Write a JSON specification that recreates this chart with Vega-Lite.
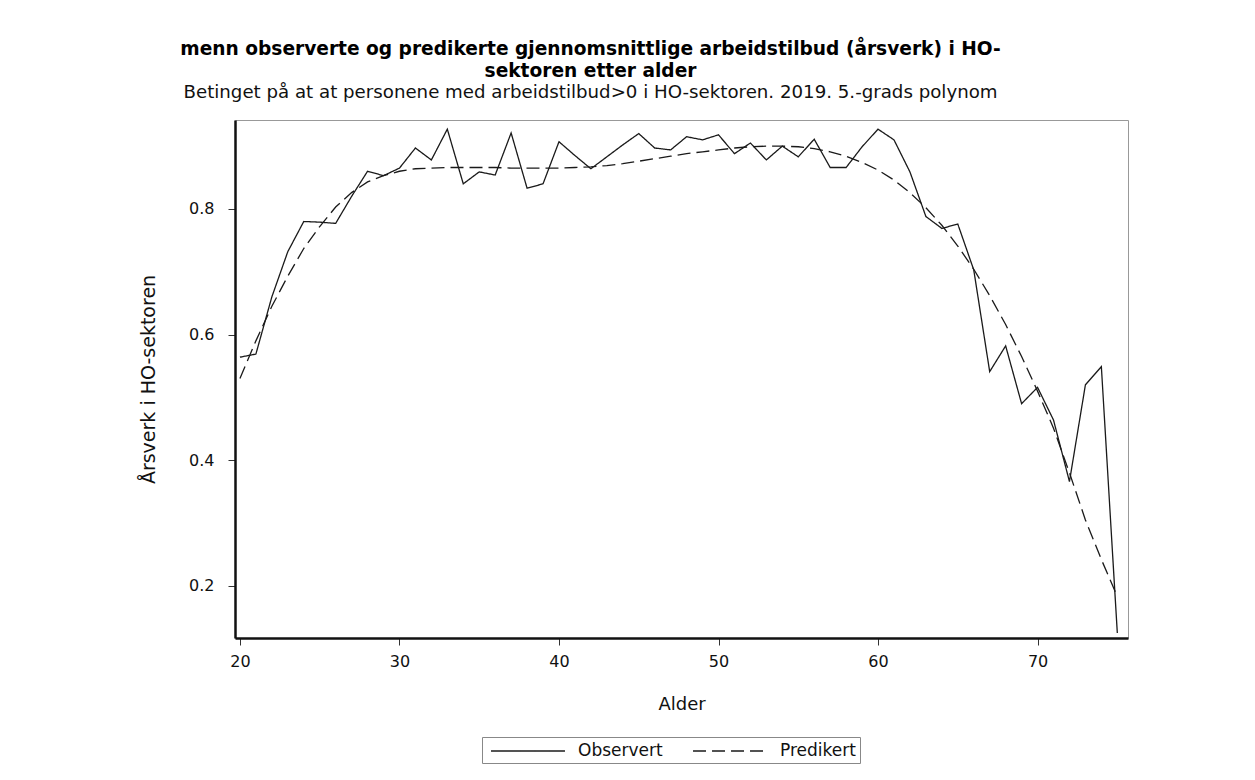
{
  "$schema": "https://vega.github.io/schema/vega-lite/v6.json",
  "autosize": {"type": "none"},
  "width": 893,
  "height": 518,
  "padding": {"left": 235, "top": 120, "right": 127, "bottom": 142},
  "background": "white",
  "title": {
    "text": ["menn observerte og predikerte gjennomsnittlige arbeidstilbud (årsverk) i HO-", "sektoren etter alder"],
    "subtitle": "Betinget på at at personene med arbeidstilbud>0 i HO-sektoren. 2019. 5.-grads polynom",
    "anchor": "middle",
    "dx": -91,
    "offset": 19,
    "font": "DejaVu Sans",
    "fontSize": 18.6,
    "fontWeight": "bold",
    "lineHeight": 22,
    "color": "#000",
    "subtitleFont": "DejaVu Sans",
    "subtitleFontSize": 18.2,
    "subtitleColor": "#111",
    "subtitlePadding": 3
  },
  "data": {
    "values": [
      {"alder": 20, "serie": "Observert", "verdi": 0.564},
      {"alder": 21, "serie": "Observert", "verdi": 0.569},
      {"alder": 22, "serie": "Observert", "verdi": 0.660},
      {"alder": 23, "serie": "Observert", "verdi": 0.732},
      {"alder": 24, "serie": "Observert", "verdi": 0.780},
      {"alder": 25, "serie": "Observert", "verdi": 0.779},
      {"alder": 26, "serie": "Observert", "verdi": 0.777},
      {"alder": 27, "serie": "Observert", "verdi": 0.820},
      {"alder": 28, "serie": "Observert", "verdi": 0.860},
      {"alder": 29, "serie": "Observert", "verdi": 0.853},
      {"alder": 30, "serie": "Observert", "verdi": 0.865},
      {"alder": 31, "serie": "Observert", "verdi": 0.897},
      {"alder": 32, "serie": "Observert", "verdi": 0.878},
      {"alder": 33, "serie": "Observert", "verdi": 0.927},
      {"alder": 34, "serie": "Observert", "verdi": 0.840},
      {"alder": 35, "serie": "Observert", "verdi": 0.859},
      {"alder": 36, "serie": "Observert", "verdi": 0.854},
      {"alder": 37, "serie": "Observert", "verdi": 0.921},
      {"alder": 38, "serie": "Observert", "verdi": 0.833},
      {"alder": 39, "serie": "Observert", "verdi": 0.840},
      {"alder": 40, "serie": "Observert", "verdi": 0.907},
      {"alder": 41, "serie": "Observert", "verdi": 0.885},
      {"alder": 42, "serie": "Observert", "verdi": 0.864},
      {"alder": 43, "serie": "Observert", "verdi": 0.883},
      {"alder": 44, "serie": "Observert", "verdi": 0.902},
      {"alder": 45, "serie": "Observert", "verdi": 0.920},
      {"alder": 46, "serie": "Observert", "verdi": 0.897},
      {"alder": 47, "serie": "Observert", "verdi": 0.894},
      {"alder": 48, "serie": "Observert", "verdi": 0.915},
      {"alder": 49, "serie": "Observert", "verdi": 0.910},
      {"alder": 50, "serie": "Observert", "verdi": 0.918},
      {"alder": 51, "serie": "Observert", "verdi": 0.888},
      {"alder": 52, "serie": "Observert", "verdi": 0.905},
      {"alder": 53, "serie": "Observert", "verdi": 0.878},
      {"alder": 54, "serie": "Observert", "verdi": 0.900},
      {"alder": 55, "serie": "Observert", "verdi": 0.883},
      {"alder": 56, "serie": "Observert", "verdi": 0.911},
      {"alder": 57, "serie": "Observert", "verdi": 0.866},
      {"alder": 58, "serie": "Observert", "verdi": 0.866},
      {"alder": 59, "serie": "Observert", "verdi": 0.899},
      {"alder": 60, "serie": "Observert", "verdi": 0.927},
      {"alder": 61, "serie": "Observert", "verdi": 0.910},
      {"alder": 62, "serie": "Observert", "verdi": 0.859},
      {"alder": 63, "serie": "Observert", "verdi": 0.788},
      {"alder": 64, "serie": "Observert", "verdi": 0.769},
      {"alder": 65, "serie": "Observert", "verdi": 0.776},
      {"alder": 66, "serie": "Observert", "verdi": 0.703},
      {"alder": 67, "serie": "Observert", "verdi": 0.541},
      {"alder": 68, "serie": "Observert", "verdi": 0.582},
      {"alder": 69, "serie": "Observert", "verdi": 0.490},
      {"alder": 70, "serie": "Observert", "verdi": 0.516},
      {"alder": 71, "serie": "Observert", "verdi": 0.464},
      {"alder": 72, "serie": "Observert", "verdi": 0.366},
      {"alder": 73, "serie": "Observert", "verdi": 0.520},
      {"alder": 74, "serie": "Observert", "verdi": 0.549},
      {"alder": 75, "serie": "Observert", "verdi": 0.125},
      {"alder": 20, "serie": "Predikert", "verdi": 0.530},
      {"alder": 21, "serie": "Predikert", "verdi": 0.590},
      {"alder": 22, "serie": "Predikert", "verdi": 0.645},
      {"alder": 23, "serie": "Predikert", "verdi": 0.693},
      {"alder": 24, "serie": "Predikert", "verdi": 0.737},
      {"alder": 25, "serie": "Predikert", "verdi": 0.772},
      {"alder": 26, "serie": "Predikert", "verdi": 0.803},
      {"alder": 27, "serie": "Predikert", "verdi": 0.826},
      {"alder": 28, "serie": "Predikert", "verdi": 0.843},
      {"alder": 29, "serie": "Predikert", "verdi": 0.853},
      {"alder": 30, "serie": "Predikert", "verdi": 0.860},
      {"alder": 31, "serie": "Predikert", "verdi": 0.864},
      {"alder": 32, "serie": "Predikert", "verdi": 0.865},
      {"alder": 33, "serie": "Predikert", "verdi": 0.866},
      {"alder": 34, "serie": "Predikert", "verdi": 0.866},
      {"alder": 35, "serie": "Predikert", "verdi": 0.866},
      {"alder": 36, "serie": "Predikert", "verdi": 0.866},
      {"alder": 37, "serie": "Predikert", "verdi": 0.865},
      {"alder": 38, "serie": "Predikert", "verdi": 0.865},
      {"alder": 39, "serie": "Predikert", "verdi": 0.865},
      {"alder": 40, "serie": "Predikert", "verdi": 0.865},
      {"alder": 41, "serie": "Predikert", "verdi": 0.866},
      {"alder": 42, "serie": "Predikert", "verdi": 0.867},
      {"alder": 43, "serie": "Predikert", "verdi": 0.869},
      {"alder": 44, "serie": "Predikert", "verdi": 0.872},
      {"alder": 45, "serie": "Predikert", "verdi": 0.876},
      {"alder": 46, "serie": "Predikert", "verdi": 0.880},
      {"alder": 47, "serie": "Predikert", "verdi": 0.884},
      {"alder": 48, "serie": "Predikert", "verdi": 0.888},
      {"alder": 49, "serie": "Predikert", "verdi": 0.891},
      {"alder": 50, "serie": "Predikert", "verdi": 0.894},
      {"alder": 51, "serie": "Predikert", "verdi": 0.897},
      {"alder": 52, "serie": "Predikert", "verdi": 0.899},
      {"alder": 53, "serie": "Predikert", "verdi": 0.900},
      {"alder": 54, "serie": "Predikert", "verdi": 0.900},
      {"alder": 55, "serie": "Predikert", "verdi": 0.899},
      {"alder": 56, "serie": "Predikert", "verdi": 0.896},
      {"alder": 57, "serie": "Predikert", "verdi": 0.891},
      {"alder": 58, "serie": "Predikert", "verdi": 0.884},
      {"alder": 59, "serie": "Predikert", "verdi": 0.874},
      {"alder": 60, "serie": "Predikert", "verdi": 0.862},
      {"alder": 61, "serie": "Predikert", "verdi": 0.846},
      {"alder": 62, "serie": "Predikert", "verdi": 0.826},
      {"alder": 63, "serie": "Predikert", "verdi": 0.802},
      {"alder": 64, "serie": "Predikert", "verdi": 0.774},
      {"alder": 65, "serie": "Predikert", "verdi": 0.741},
      {"alder": 66, "serie": "Predikert", "verdi": 0.704},
      {"alder": 67, "serie": "Predikert", "verdi": 0.662},
      {"alder": 68, "serie": "Predikert", "verdi": 0.616},
      {"alder": 69, "serie": "Predikert", "verdi": 0.565},
      {"alder": 70, "serie": "Predikert", "verdi": 0.510},
      {"alder": 71, "serie": "Predikert", "verdi": 0.451},
      {"alder": 72, "serie": "Predikert", "verdi": 0.380},
      {"alder": 73, "serie": "Predikert", "verdi": 0.305},
      {"alder": 74, "serie": "Predikert", "verdi": 0.242},
      {"alder": 75, "serie": "Predikert", "verdi": 0.183}
    ]
  },
  "mark": {"type": "line", "color": "#1a1a1a", "strokeWidth": 1.3},
  "encoding": {
    "x": {
      "field": "alder",
      "type": "quantitative",
      "title": "Alder",
      "scale": {"domain": [19.69, 75.67], "nice": false, "zero": false},
      "axis": {"values": [20, 30, 40, 50, 60, 70], "grid": false, "format": "d"}
    },
    "y": {
      "field": "verdi",
      "type": "quantitative",
      "title": "Årsverk i HO-sektoren",
      "scale": {"domain": [0.117, 0.9416], "nice": false, "zero": false},
      "axis": {"values": [0.2, 0.4, 0.6, 0.8], "grid": false, "format": ".1f", "titleFontSize": 19}
    },
    "strokeDash": {
      "field": "serie",
      "type": "nominal",
      "scale": {"domain": ["Observert", "Predikert"], "range": [[1, 0], [13, 6]]},
      "legend": {
        "title": null,
        "orient": "none",
        "legendX": 247,
        "legendY": 617,
        "direction": "horizontal",
        "symbolType": "M-4,0H4",
        "symbolSize": 342,
        "symbolOffset": 32,
        "symbolStrokeWidth": 1.3,
        "symbolStrokeColor": "#1a1a1a",
        "labelFont": "DejaVu Sans",
        "labelFontSize": 17,
        "labelColor": "#111",
        "labelOffset": 40,
        "columnPadding": 25,
        "strokeColor": "#888",
        "padding": 4,
        "fillColor": "white"
      }
    }
  },
  "config": {
    "view": {"stroke": "#999", "strokeWidth": 1},
    "axis": {
      "domainColor": "#111",
      "domainWidth": 2.5,
      "tickColor": "#333",
      "tickSize": 7,
      "tickWidth": 1,
      "labelFont": "DejaVu Sans",
      "labelFontSize": 16,
      "labelColor": "#111",
      "titleFont": "DejaVu Sans",
      "titleFontSize": 18,
      "titleFontWeight": "normal",
      "titleColor": "#111"
    },
    "axisX": {"labelPadding": 8, "titlePadding": 26},
    "axisY": {"labelPadding": 14, "titlePadding": 30}
  }
}
